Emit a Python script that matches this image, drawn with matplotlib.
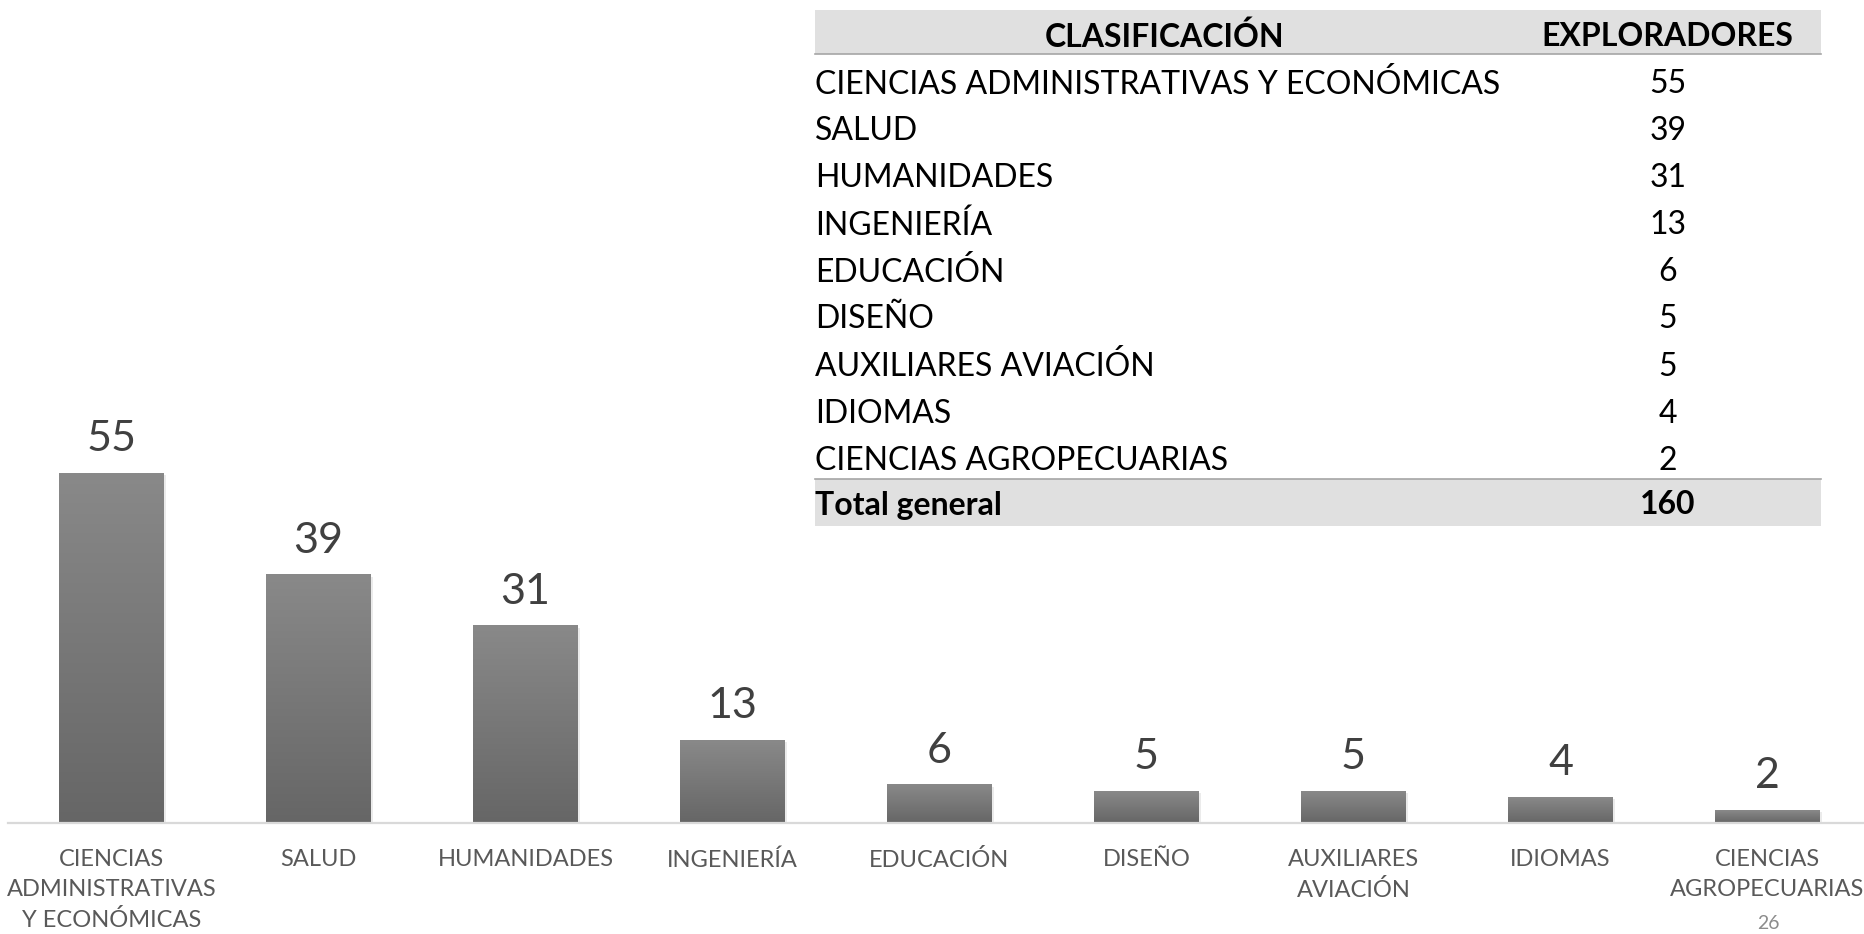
import numpy as np
import matplotlib
matplotlib.use("Agg")
import matplotlib.pyplot as plt
from matplotlib.patches import Rectangle

# data
categories = ["CIENCIAS ADMINISTRATIVAS Y ECONÓMICAS", "SALUD", "HUMANIDADES",
              "INGENIERÍA", "EDUCACIÓN", "DISEÑO", "AUXILIARES AVIACIÓN",
              "IDIOMAS", "CIENCIAS AGROPECUARIAS"]
tick_labels = ["CIENCIAS\nADMINISTRATIVAS\nY ECONÓMICAS", "SALUD", "HUMANIDADES",
               "INGENIERÍA", "EDUCACIÓN", "DISEÑO", "AUXILIARES\nAVIACIÓN",
               "IDIOMAS", "CIENCIAS\nAGROPECUARIAS"]
exploradores = [55, 39, 31, 13, 6, 5, 5, 4, 2]
total_label = "Total general"
total_value = 160
col_headers = ["CLASIFICACIÓN", "EXPLORADORES"]
page_number = "26"

W, H = 1864, 934
fig = plt.figure(figsize=(W / 100, H / 100), dpi=100)

chart_font = ["Lato", "DejaVu Sans"]
table_font = ["Lato", "DejaVu Sans"]

# bar chart, placed in pixels
x_left, x_right, y_base, px_per_unit = 8, 1871, 823, 6.36
ymax = 60
ax = fig.add_axes([x_left / W, (H - y_base) / H, (x_right - x_left) / W,
                   ymax * px_per_unit / H])
x = np.arange(len(exploradores))
bars = ax.bar(x, exploradores, width=105 / 207, color="none", zorder=2)
grad = np.linspace(0, 1, 256).reshape(-1, 1)
cmap = matplotlib.colors.LinearSegmentedColormap.from_list("g", ["#666666", "#898989"])
for b in bars:
    x0, w, h = b.get_x(), b.get_width(), b.get_height()
    ax.add_patch(Rectangle((x0 + 0.008, -0.3), w, h, color="#000000", alpha=0.08,
                           zorder=1, lw=0))
    ax.imshow(grad, extent=[x0, x0 + w, 0, h], aspect="auto", cmap=cmap,
              origin="lower", zorder=2)
for xi, v in zip(x, exploradores):
    ax.annotate(str(v), (xi, v), xytext=(0, 16), textcoords="offset points",
                ha="center", va="baseline", fontsize=31, color="#404040",
                family=chart_font)
ax.set_xlim(-0.5, len(exploradores) - 0.5)
ax.set_ylim(0, ymax)
ax.set_yticks([])
ax.set_xticks(x)
ax.set_xticklabels(tick_labels, fontsize=17, color="#595959", family=chart_font,
                   linespacing=1.5)
ax.tick_params(axis="x", length=0, pad=19)
for s in ["top", "right", "left"]:
    ax.spines[s].set_visible(False)
ax.spines["bottom"].set_color("#d9d9d9")
ax.spines["bottom"].set_linewidth(1.6)
ax.patch.set_alpha(0)

# table overlay in pixel coordinates
ov = fig.add_axes([0, 0, 1, 1])
ov.set_xlim(0, W)
ov.set_ylim(H, 0)
ov.axis("off")
ov.patch.set_alpha(0)

fs = 23
tx0, tx1 = 815, 1821
ov.add_patch(Rectangle((tx0, 9.5), tx1 - tx0, 44, color="#e0e0e0", lw=0))
ov.plot([tx0, tx1], [53.5, 53.5], color="#a6a6a6", lw=1.2)
ov.text(1165, 37, col_headers[0], ha="center", va="center", fontsize=fs,
        fontweight="bold", family=table_font, color="black")
ov.text(1667, 37, col_headers[1], ha="center", va="center", fontsize=fs,
        fontweight="bold", family=table_font, color="black")

row_y0, row_h = 84, 47.1
for i, (c, v) in enumerate(zip(categories, exploradores)):
    yy = row_y0 + i * row_h
    ov.text(tx0, yy, c, ha="left", va="center", fontsize=fs, family=table_font,
            color="black")
    ov.text(1668, yy, str(v), ha="center", va="center", fontsize=fs,
            family=table_font, color="black")

ov.add_patch(Rectangle((tx0, 479), tx1 - tx0, 46.5, color="#e0e0e0", lw=0))
ov.plot([tx0, tx1], [479, 479], color="#a6a6a6", lw=1.2)
ov.text(tx0, 505, total_label, ha="left", va="center", fontsize=fs,
        fontweight="bold", family=table_font, color="black")
ov.text(1668, 505, str(total_value), ha="center", va="center", fontsize=fs,
        fontweight="bold", family=table_font, color="black")

ov.text(1768, 932, page_number, ha="center", va="bottom", fontsize=14,
        color="#8c8c8c", family=chart_font)

fig.savefig("out.png", dpi=100)
